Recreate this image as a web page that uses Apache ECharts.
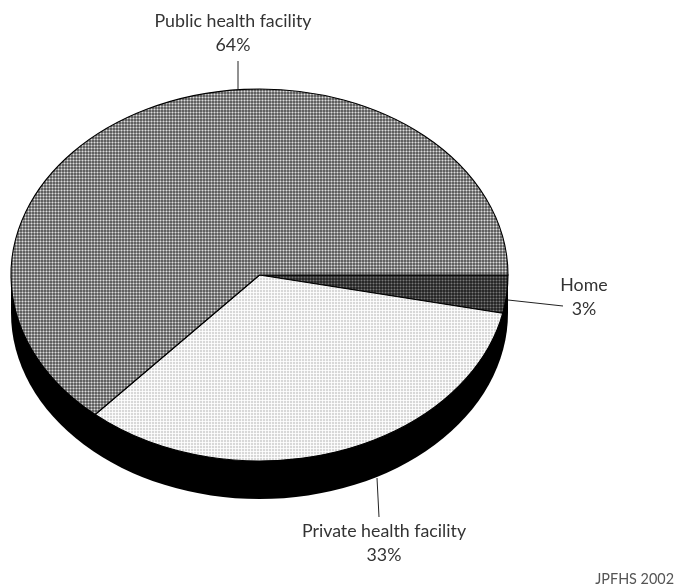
<!DOCTYPE html>
<html><head><meta charset="utf-8">
<style>html,body{margin:0;padding:0;background:#fff}#c{width:677px;height:586px}</style>
<script src="https://cdn.jsdelivr.net/npm/echarts@6/dist/echarts.min.js"></script>
</head><body><div id="c"></div>
<script>
const categories = ['Home', 'Private health facility', 'Public health facility'];
const shares = [3.3, 33.2, 63.5];
const percentLabels = ['3%', '33%', '64%'];
const sourceNote = 'JPFHS 2002';

const CX = 259.5, CY = 275, RX = 248.5, RY = 186, DEPTH = 38;
const FONT = 'Lato, "Open Sans", sans-serif', INK = '#333';
const tile = (corner, edge, centre) => {
  const c = document.createElement('canvas');
  c.width = c.height = 3;
  const g = c.getContext('2d');
  g.fillStyle = edge; g.fillRect(0, 0, 3, 3);
  g.fillStyle = corner;
  [[0, 0], [2, 0], [0, 2], [2, 2]].forEach(p => g.fillRect(p[0], p[1], 1, 1));
  g.fillStyle = centre; g.fillRect(1, 1, 1, 1);
  return { image: c, repeat: 'repeat' };
};
const fills = [tile('#282828', '#484848', '#787878'), tile('#d8d8d8', '#f8f8f8', '#ffffff'), tile('#606060', '#989898', '#dcdcdc')];
const leaders = [[[508, 300], [563, 306]], [[377, 478], [379, 517]], [[238, 89], [238, 61]]];
const labelPos = [[584, 297], [384, 543], [233, 33]];

const pt = a => [CX + RX * Math.cos(a), CY + RY * Math.sin(a)];
const total = shares.reduce((a, b) => a + b, 0);

function renderItem(params, api) {
  const i = params.dataIndex, children = [];
  const before = shares.slice(0, i).reduce((a, b) => a + b, 0);
  const a0 = before / total * 2 * Math.PI, a1 = (before + api.value(0)) / total * 2 * Math.PI;
  const p0 = pt(a0), p1 = pt(a1);
  if (i === 0) {
    children.push({ type: 'path', shape: { pathData:
      `M${CX - RX} ${CY} L${CX - RX} ${CY + DEPTH} A${RX} ${RY} 0 0 0 ${CX + RX} ${CY + DEPTH} L${CX + RX} ${CY} Z` },
      style: { fill: '#000' } });
  }
  children.push({ type: 'path', shape: { pathData:
    `M${CX} ${CY} L${p0[0]} ${p0[1]} A${RX} ${RY} 0 ${a1 - a0 > Math.PI ? 1 : 0} 1 ${p1[0]} ${p1[1]} Z` },
    style: { fill: fills[i], stroke: '#000', lineWidth: 1.1 } });
  const l = leaders[i];
  children.push({ type: 'line', shape: { x1: l[0][0], y1: l[0][1], x2: l[1][0], y2: l[1][1] },
    style: { stroke: '#222', lineWidth: 1 } });
  children.push({ type: 'text', x: labelPos[i][0], y: labelPos[i][1], style: {
    text: categories[i] + '\n' + percentLabels[i], fill: INK, font: '17.8px ' + FONT,
    lineHeight: 24, align: 'center', verticalAlign: 'middle' } });
  return { type: 'group', children };
}

const chart = echarts.init(document.getElementById('c'), null, { renderer: 'canvas' });
chart.setOption({
  animation: false,
  graphic: [{ type: 'text', right: 3, top: 572, style: { text: sourceNote, fill: '#555', font: '14.4px ' + FONT } }],
  series: [{ type: 'custom', coordinateSystem: 'none', renderItem, data: shares.map(v => [v]) }]
});
</script></body></html>
